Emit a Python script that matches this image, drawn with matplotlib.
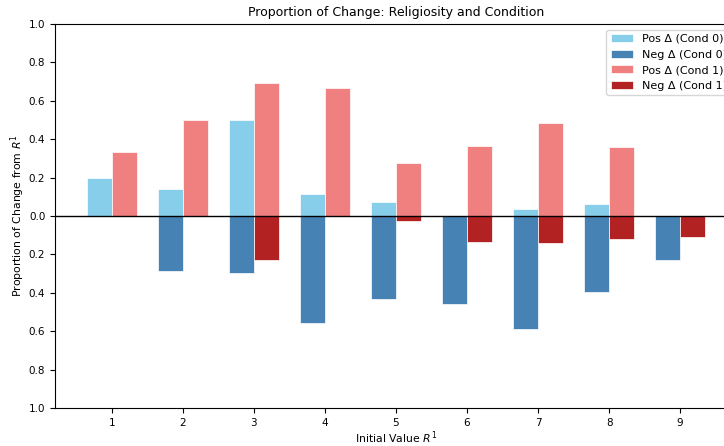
import numpy as np
import matplotlib.pyplot as plt
from matplotlib.ticker import FuncFormatter

# initial values R^1
initial = [1, 2, 3, 4, 5, 6, 7, 8, 9]

# proportion of change, condition 0
pos_c0 = [0.20, 0.14, 0.50, 0.113, 0.073, 0.0, 0.036, 0.060, 0.0]
neg_c0 = [0.0, 0.286, 0.298, 0.557, 0.432, 0.459, 0.590, 0.394, 0.228]

# proportion of change, condition 1
pos_c1 = [0.333, 0.50, 0.693, 0.666, 0.276, 0.365, 0.485, 0.360, 0.0]
neg_c1 = [0.0, 0.0, 0.230, 0.0, 0.027, 0.135, 0.142, 0.120, 0.110]

x = np.array(initial)
w = 0.35

fig = plt.figure(figsize=(7.24, 4.46), dpi=100)
ax = fig.add_axes([55 / 724, 38 / 446, 682 / 724, 384 / 446])

ax.bar(x - w / 2, pos_c0, w, color='skyblue', edgecolor='white', linewidth=0.5, label='Pos Δ (Cond 0)')
ax.bar(x - w / 2, [-v for v in neg_c0], w, color='steelblue', edgecolor='white', linewidth=0.5, label='Neg Δ (Cond 0)')
ax.bar(x + w / 2, pos_c1, w, color='lightcoral', edgecolor='white', linewidth=0.5, label='Pos Δ (Cond 1)')
ax.bar(x + w / 2, [-v for v in neg_c1], w, color='firebrick', edgecolor='white', linewidth=0.5, label='Neg Δ (Cond 1)')

ax.axhline(0, color='black', linewidth=1)

ax.set_xlim(0.2, 9.8)
ax.set_ylim(-1, 1)
ax.set_xticks(x)
ax.set_yticks(np.arange(-1, 1.01, 0.2))
# negative side shows magnitudes
ax.yaxis.set_major_formatter(FuncFormatter(lambda v, p: f"{abs(v):.1f}"))
ax.tick_params(labelsize=7.5)

ax.set_title("Proportion of Change: Religiosity and Condition", fontsize=9)
ax.set_xlabel("Initial Value $R^1$", fontsize=7.8, labelpad=1)
ax.set_ylabel("Proportion of Change from $R^1$", fontsize=7.8, labelpad=1)
ax.legend(loc='upper right', fontsize=8)

fig.savefig("out.png", dpi=100)
